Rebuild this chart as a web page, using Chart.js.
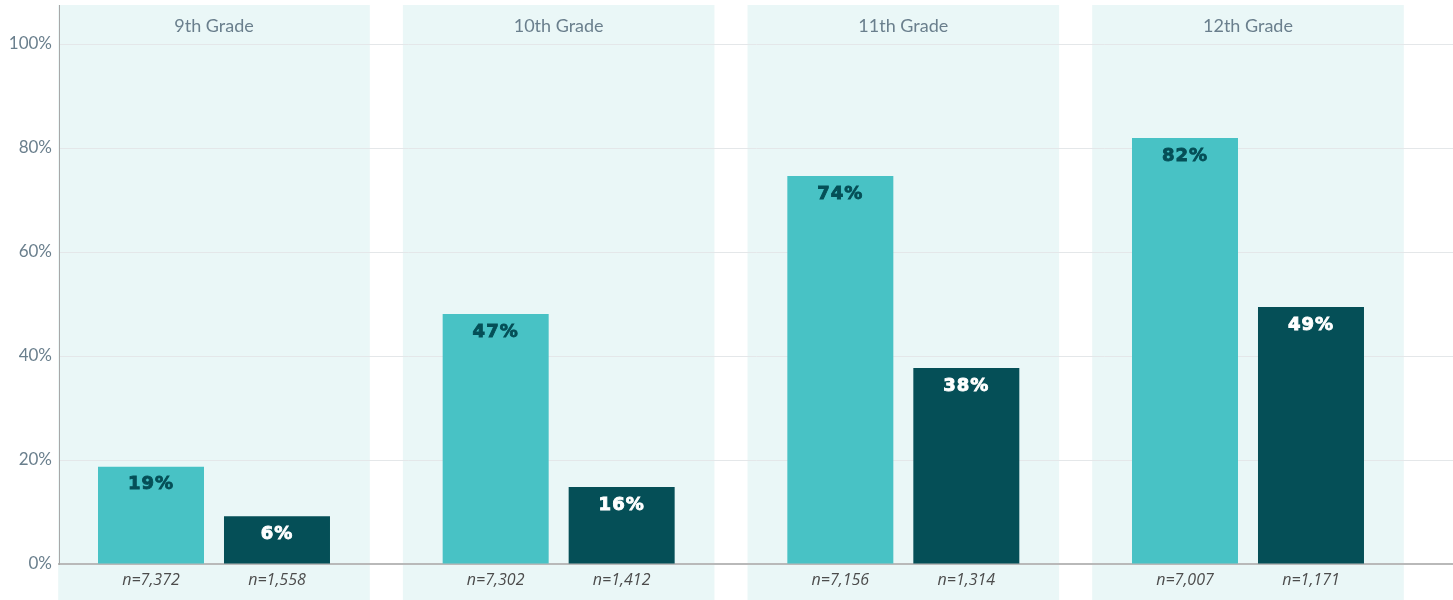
<!DOCTYPE html>
<html lang="en">
<head>
  <meta charset="UTF-8" />
  <title>Grade chart</title>
  <script src="https://cdn.jsdelivr.net/npm/chart.js"></script>
  <style>
    html, body {
      margin: 0;
      padding: 0;
      background: #ffffff;
    }
    #wrap {
      width: 1453px;
      height: 600px;
    }
  </style>
</head>
<body>
  <div id="wrap"><canvas id="barChart"></canvas></div>

  <script>
    const grades = ['9th Grade', '10th Grade', '11th Grade', '12th Grade'];
    // bar heights (percent)
    const lightValues = [18.7, 48.1, 74.6, 81.9];
    const darkValues = [9.2, 14.8, 37.7, 49.4];
    // labels printed on the bars
    const lightLabels = ['19%', '47%', '74%', '82%'];
    const darkLabels = ['6%', '16%', '38%', '49%'];
    // sample sizes under the bars
    const lightN = ['n=7,372', 'n=7,302', 'n=7,156', 'n=7,007'];
    const darkN = ['n=1,558', 'n=1,412', 'n=1,314', 'n=1,171'];
    const yTicks = [0, 20, 40, 60, 80, 100];

    const lightColor = '#48c2c5';
    const darkColor = '#054f57';
    const bandColor = '#eaf7f7';
    const greyText = '#6a7f8d';

    // background bands + grade titles
    const bandPlugin = {
      id: 'bands',
      beforeDraw(chart) {
        const ctx = chart.ctx;
        const xs = chart.scales.x;
        const top = chart.chartArea.top;
        ctx.save();
        ctx.fillStyle = bandColor;
        grades.forEach((g, i) => {
          const l = xs.getPixelForValue(i - 0.452);
          const r = xs.getPixelForValue(i + 0.452);
          ctx.fillRect(l, top, r - l, chart.height - top);
        });
        ctx.fillStyle = greyText;
        ctx.font = '18px Lato, "Open Sans", sans-serif';
        ctx.textAlign = 'center';
        ctx.textBaseline = 'middle';
        grades.forEach((g, i) => {
          ctx.fillText(g, xs.getPixelForValue(i), top + 21);
        });
        ctx.restore();
      }
    };

    // value labels inside the bars and n= labels under the axis
    const labelPlugin = {
      id: 'barLabels',
      afterDatasetsDraw(chart) {
        const ctx = chart.ctx;
        const bottom = chart.chartArea.bottom;
        const sets = [
          { meta: chart.getDatasetMeta(0), labels: lightLabels, n: lightN, color: darkColor },
          { meta: chart.getDatasetMeta(1), labels: darkLabels, n: darkN, color: '#ffffff' }
        ];
        ctx.save();
        ctx.textAlign = 'center';
        ctx.textBaseline = 'middle';
        sets.forEach(s => {
          s.meta.data.forEach((bar, i) => {
            ctx.fillStyle = s.color;
            ctx.strokeStyle = s.color;
            ctx.lineWidth = 0.9;
            ctx.font = 'bold 18px "DejaVu Sans", sans-serif';
            ctx.letterSpacing = '1px';
            ctx.fillText(s.labels[i], bar.x, bar.y + 18);
            ctx.strokeText(s.labels[i], bar.x, bar.y + 18);
            ctx.letterSpacing = '0px';
            ctx.fillStyle = '#4c4c4c';
            ctx.font = 'italic 16px "Open Sans", sans-serif';
            ctx.fillText(s.n[i], bar.x, bottom + 16);
          });
        });
        ctx.restore();
      }
    };

    const ctx = document.getElementById('barChart').getContext('2d');
    new Chart(ctx, {
      type: 'bar',
      data: {
        datasets: [
          {
            label: 'light',
            data: lightValues.map((v, i) => ({ x: i, y: v })),
            backgroundColor: lightColor,
            borderWidth: 0
          },
          {
            label: 'dark',
            data: darkValues.map((v, i) => ({ x: i, y: v })),
            backgroundColor: darkColor,
            borderWidth: 0
          }
        ]
      },
      options: {
        responsive: true,
        maintainAspectRatio: false,
        animation: false,
        categoryPercentage: 0.7311,
        barPercentage: 0.8413,
        layout: { padding: { top: 5, right: 0, bottom: 0, left: 0 } },
        plugins: {
          legend: { display: false },
          tooltip: { enabled: false }
        },
        scales: {
          x: {
            type: 'linear',
            offset: false,
            min: -0.4497,
            max: 3.5948,
            afterBuildTicks: scale => { scale.ticks = grades.map((g, i) => ({ value: i })); },
            grid: { display: false },
            ticks: { display: false },
            border: { display: true, color: '#b9b9b9', width: 2 },
            afterFit: scale => { scale.height = 36; scale.paddingLeft = 0; scale.paddingRight = 0; }
          },
          y: {
            min: 0,
            max: 107.5,
            afterBuildTicks: scale => { scale.ticks = yTicks.map(v => ({ value: v })); },
            ticks: {
              callback: value => value + '%',
              color: greyText,
              font: { family: 'Lato, "Open Sans", sans-serif', size: 17 },
              padding: 7
            },
            grid: { color: '#e4e7e9', lineWidth: 1, drawTicks: false },
            border: { display: true, color: '#a8a8a8', width: 1 },
            afterFit: scale => { scale.width = 59; scale.paddingTop = 0; scale.paddingBottom = 0; }
          }
        }
      },
      plugins: [bandPlugin, labelPlugin]
    });
  </script>
</body>
</html>
